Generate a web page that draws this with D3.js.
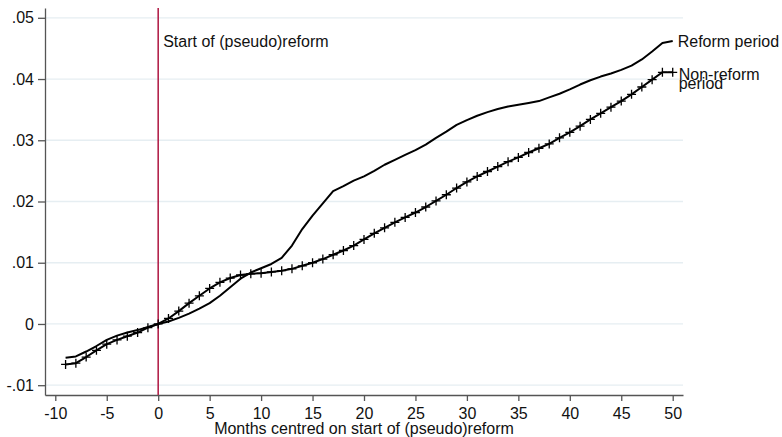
<!DOCTYPE html>
<html>
<head>
<meta charset="utf-8">
<script src="https://cdn.jsdelivr.net/npm/d3@7/dist/d3.min.js"></script>
<style>
  html, body { margin: 0; padding: 0; background: #ffffff; }
  svg { display: block; font-family: "Liberation Sans", Arial, sans-serif; }
</style>
</head>
<body>
<svg id="chart" width="782" height="437"></svg>
<script>
// Months relative to the start of the (pseudo)reform
const months = d3.range(-9, 51);

// Cumulative outcome, reform period (plain line)
const reformValues = [
  -0.0055, -0.0053, -0.0045, -0.0036, -0.0026, -0.0019, -0.0014, -0.0010, -0.0005,
  0.0000, 0.0004, 0.0010, 0.0017, 0.0025, 0.0034, 0.0046, 0.0060, 0.0074, 0.0084,
  0.0091, 0.0098, 0.0108, 0.0128, 0.0155, 0.0177, 0.0197, 0.0217, 0.0225, 0.0234,
  0.0241, 0.0250, 0.0260, 0.0268, 0.0276, 0.0284, 0.0293, 0.0304, 0.0314, 0.0325,
  0.0333, 0.0340, 0.0346, 0.0351, 0.0355, 0.0358, 0.0361, 0.0364, 0.0370, 0.0376,
  0.0383, 0.0391, 0.0398, 0.0404, 0.0409, 0.0415, 0.0422, 0.0432, 0.0445, 0.0459,
  0.0462
];

// Cumulative outcome, non-reform period (line with + markers)
const nonReformValues = [
  -0.0066, -0.0064, -0.0054, -0.0043, -0.0033, -0.0026, -0.0020, -0.0014, -0.0006,
  0.0000, 0.0009, 0.0021, 0.0034, 0.0046, 0.0058, 0.0068, 0.0075, 0.0080, 0.0082,
  0.0083, 0.0085, 0.0087, 0.0090, 0.0095, 0.0100, 0.0106, 0.0113, 0.0120, 0.0128,
  0.0138, 0.0148, 0.0157, 0.0166, 0.0174, 0.0182, 0.0191, 0.0201, 0.0211, 0.0222,
  0.0232, 0.0241, 0.0249, 0.0257, 0.0265, 0.0272, 0.0280, 0.0287, 0.0294, 0.0304,
  0.0313, 0.0323, 0.0334, 0.0344, 0.0354, 0.0364, 0.0375, 0.0387, 0.0399, 0.0411,
  0.0411
];

const xTicks = [-10, -5, 0, 5, 10, 15, 20, 25, 30, 35, 40, 45, 50];
const xTickLabels = ["-10", "-5", "0", "5", "10", "15", "20", "25", "30", "35", "40", "45", "50"];
const yTicks = [-0.01, 0, 0.01, 0.02, 0.03, 0.04, 0.05];
const yTickLabels = ["-.01", "0", ".01", ".02", ".03", ".04", ".05"];

const xTitle = "Months centred on start of (pseudo)reform";
const refLabel = "Start of (pseudo)reform";
const reformLabel = "Reform period";
const nonReformLabel = ["Non-reform", "period"];

const svg = d3.select("#chart");

const x = d3.scaleLinear().domain([-11, 51]).range([45, 683]);
const y = d3.scaleLinear().domain([-0.0116, 0.0516]).range([395, 8]);

// horizontal grid
svg.append("g")
  .selectAll("line")
  .data(yTicks)
  .join("line")
  .attr("x1", x.range()[0]).attr("x2", x.range()[1])
  .attr("y1", d => y(d)).attr("y2", d => y(d))
  .attr("stroke", "#e6eef2")
  .attr("stroke-width", 1.3);

// y axis
const yAxis = svg.append("g")
  .attr("transform", `translate(${x.range()[0]},0)`)
  .call(d3.axisLeft(y)
    .tickValues(yTicks)
    .tickFormat(d => yTickLabels[yTicks.indexOf(d)])
    .tickSize(7)
    .tickSizeOuter(0)
    .tickPadding(4));

// x axis
const xAxis = svg.append("g")
  .attr("transform", `translate(0,${y.range()[0]})`)
  .call(d3.axisBottom(x)
    .tickValues(xTicks)
    .tickFormat(d => xTickLabels[xTicks.indexOf(d)])
    .tickSize(6)
    .tickSizeOuter(0)
    .tickPadding(7));

[yAxis, xAxis].forEach(g => {
  g.select(".domain").attr("stroke", "#555").attr("stroke-width", 1.3);
  g.selectAll(".tick line").attr("stroke", "#555").attr("stroke-width", 1.3);
  g.selectAll(".tick text")
    .attr("fill", "#111")
    .style("font-size", "16px")
    .style("font-family", "'Liberation Sans', Arial, sans-serif");
});

// reference line at month 0
svg.append("line")
  .attr("x1", x(0)).attr("x2", x(0))
  .attr("y1", y.range()[1]).attr("y2", y.range()[0])
  .attr("stroke", "#b3244c")
  .attr("stroke-width", 1.6);

svg.append("text")
  .attr("x", x(0) + 5).attr("y", 47)
  .attr("fill", "#111")
  .style("font-size", "16px")
  .text(refLabel);

const reformData = months.map((m, i) => ({ m, v: reformValues[i] }));
const nonReformData = months.map((m, i) => ({ m, v: nonReformValues[i] }));

const line = d3.line().x(d => x(d.m)).y(d => y(d.v));

svg.append("path")
  .datum(reformData)
  .attr("d", line)
  .attr("fill", "none")
  .attr("stroke", "#000")
  .attr("stroke-width", 2)
  .attr("stroke-linejoin", "round");

svg.append("path")
  .datum(nonReformData)
  .attr("d", line)
  .attr("fill", "none")
  .attr("stroke", "#000")
  .attr("stroke-width", 2)
  .attr("stroke-linejoin", "round");

// + markers
const half = 4.5;
svg.append("g")
  .selectAll("path")
  .data(nonReformData)
  .join("path")
  .attr("d", d => {
    const cx = x(d.m), cy = y(d.v);
    return `M${cx - half},${cy}H${cx + half}M${cx},${cy - half}V${cy + half}`;
  })
  .attr("stroke", "#000")
  .attr("stroke-width", 1.3)
  .attr("fill", "none");

// series labels at the right end
const last = months.length - 1;
svg.append("text")
  .attr("x", x(months[last]) + 5)
  .attr("y", 47)
  .attr("fill", "#111")
  .style("font-size", "16px")
  .text(reformLabel);

svg.append("text")
  .attr("x", x(months[last]) + 6)
  .attr("y", 80)
  .attr("fill", "#111")
  .style("font-size", "16px")
  .text(nonReformLabel[0]);

svg.append("text")
  .attr("x", x(months[last]) + 6)
  .attr("y", 88.5)
  .attr("fill", "#111")
  .style("font-size", "16px")
  .text(nonReformLabel[1]);

// x axis title
svg.append("text")
  .attr("x", (x.range()[0] + x.range()[1]) / 2)
  .attr("y", 434)
  .attr("text-anchor", "middle")
  .attr("fill", "#111")
  .style("font-size", "16px")
  .text(xTitle);
</script>
</body>
</html>
